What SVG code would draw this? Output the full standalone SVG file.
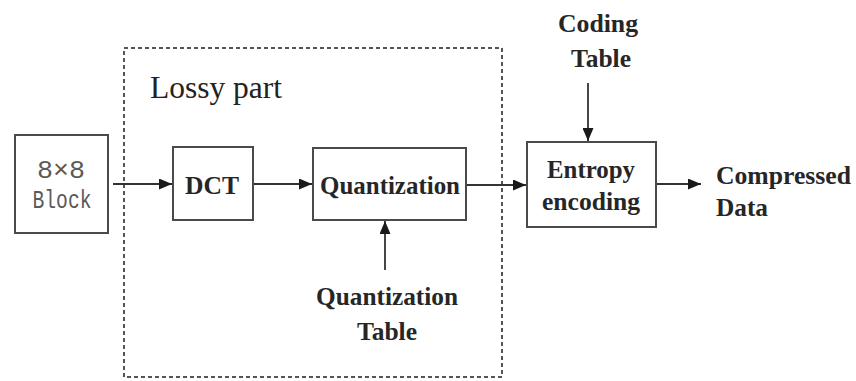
<svg xmlns="http://www.w3.org/2000/svg" width="856" height="381" viewBox="0 0 856 381">
  <style>
    .box { fill: #ffffff; stroke: #4a4a4a; stroke-width: 2; }
    .lbl { font-family: "Liberation Serif", "Times New Roman", serif; font-weight: bold; font-size: 25px; fill: #262626; text-anchor: middle; }
    .out { font-family: "Liberation Serif", "Times New Roman", serif; font-weight: bold; font-size: 25px; fill: #262626; }
    .mono { font-family: "Liberation Mono", "Courier New", monospace; font-size: 25px; fill: #5a5a5a; text-anchor: middle; }
    .wire { stroke: #333333; stroke-width: 1.8; fill: none; marker-end: url(#head); }
  </style>
  <defs>
    <marker id="head" viewBox="0 0 13 11" refX="13" refY="5.5" markerWidth="13" markerHeight="11" markerUnits="userSpaceOnUse" orient="auto">
      <path d="M0,0 L13,5.5 L0,11 Z" fill="#1a1a1a"/>
    </marker>
  </defs>
  <rect width="856" height="381" fill="#ffffff"/>

  <!-- lossy stage boundary -->
  <g id="lossy-part">
    <rect x="124" y="48" width="378" height="329" fill="none" stroke="#555555" stroke-width="2" stroke-dasharray="4 3"/>
    <text x="150" y="98" font-family="Liberation Serif, Times New Roman, serif" font-size="31" fill="#222222" textLength="132" lengthAdjust="spacingAndGlyphs">Lossy part</text>
  </g>

  <g id="block">
    <rect class="box" x="15" y="135" width="93" height="98"/>
    <text class="mono" x="61" y="178" textLength="48" lengthAdjust="spacingAndGlyphs">8×8</text>
    <text class="mono" x="62" y="208" textLength="59" lengthAdjust="spacingAndGlyphs">Block</text>
  </g>

  <g id="dct">
    <rect class="box" x="173" y="147" width="80" height="73"/>
    <text class="lbl" x="212" y="194" textLength="54" lengthAdjust="spacingAndGlyphs">DCT</text>
  </g>

  <g id="quantization">
    <rect class="box" x="313" y="148" width="153" height="72"/>
    <text class="lbl" x="390" y="194" textLength="140" lengthAdjust="spacingAndGlyphs">Quantization</text>
  </g>

  <g id="quantization-table">
    <text class="lbl" x="387" y="305" textLength="142" lengthAdjust="spacingAndGlyphs">Quantization</text>
    <text class="lbl" x="387" y="340" textLength="60" lengthAdjust="spacingAndGlyphs">Table</text>
  </g>

  <g id="entropy">
    <rect class="box" x="527" y="142" width="129" height="85"/>
    <text class="lbl" x="591" y="178" textLength="88" lengthAdjust="spacingAndGlyphs">Entropy</text>
    <text class="lbl" x="591" y="210" textLength="98" lengthAdjust="spacingAndGlyphs">encoding</text>
  </g>

  <g id="coding-table">
    <text class="lbl" x="598" y="32" textLength="80" lengthAdjust="spacingAndGlyphs">Coding</text>
    <text class="lbl" x="601" y="67" textLength="60" lengthAdjust="spacingAndGlyphs">Table</text>
  </g>

  <g id="compressed-data">
    <text class="out" x="716" y="184" textLength="135" lengthAdjust="spacingAndGlyphs">Compressed</text>
    <text class="out" x="716" y="216" textLength="52" lengthAdjust="spacingAndGlyphs">Data</text>
  </g>

  <g id="connectors">
    <line class="wire" x1="113" y1="184" x2="172" y2="184"/>
    <line class="wire" x1="254" y1="184" x2="312" y2="184"/>
    <line class="wire" x1="467" y1="185" x2="526" y2="185"/>
    <line class="wire" x1="657" y1="184" x2="701" y2="184"/>
    <line class="wire" x1="588" y1="83" x2="588" y2="141"/>
    <line class="wire" x1="385" y1="270" x2="385" y2="221"/>
  </g>
</svg>
